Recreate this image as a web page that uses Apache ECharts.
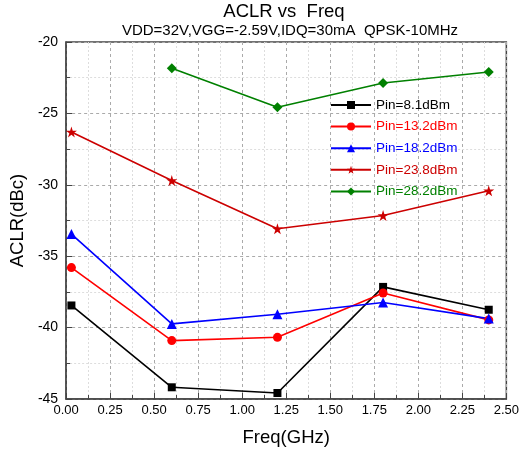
<!DOCTYPE html>
<html>
<head>
<meta charset="utf-8">
<script src="https://cdn.jsdelivr.net/npm/echarts@6/dist/echarts.min.js"></script>
<style>html,body{margin:0;padding:0;background:#fff;}#c{width:522px;height:452px;}</style>
</head>
<body>
<div id="c"></div>
<script>
var freq = [0.03, 0.6, 1.2, 1.8, 2.4];
var pin81 = [-38.45, -44.18, -44.58, -37.15, -38.75];
var pin132 = [-35.8, -40.91, -40.68, -37.58, -39.46];
var pin182 = [-33.45, -39.74, -39.06, -38.24, -39.37];
var pin238 = [-26.3, -29.7, -33.08, -32.15, -30.42];
var pin282 = [null, -21.84, -24.57, -22.87, -22.1];
var seriesNames = ['Pin=8.1dBm', 'Pin=13.2dBm', 'Pin=18.2dBm', 'Pin=23.8dBm', 'Pin=28.2dBm'];
var xTicks = [0, 2.5, 0.25];
var yTicks = [-45, -20, 5];

var star = 'path://M50,0 L61.2,34.5 L97.6,34.5 L68.2,55.9 L79.4,90.5 L50,69.1 L20.6,90.5 L31.8,55.9 L2.4,34.5 L38.8,34.5 Z';
var colors = ['#000000', '#ff0000', '#0000ff', '#cc0000', '#008000'];
var symbols = ['rect', 'circle', 'triangle', star, 'diamond'];
var sizes = [8, 9, 10, 11, 10];
var values = [pin81, pin132, pin182, pin238, pin282];

function pairs(v) {
  var out = [];
  for (var i = 0; i < freq.length; i++) { if (v[i] !== null) out.push([freq[i], v[i]]); }
  return out;
}

var series = seriesNames.map(function (n, i) {
  return {
    name: n, type: 'line', data: pairs(values[i]),
    symbol: symbols[i], symbolSize: sizes[i],
    lineStyle: { color: colors[i], width: 1.6 },
    itemStyle: { color: colors[i] },
    z: 3
  };
});

var font = 'Liberation Sans, Arial, sans-serif';
var chart = echarts.init(document.getElementById('c'), null, { renderer: 'canvas' });
chart.setOption({
  animation: false,
  backgroundColor: '#fff',
  title: [
    { text: 'ACLR vs  Freq', left: 279, top: -3, textAlign: 'center',
      textStyle: { fontFamily: font, fontSize: 18.5, fontWeight: 'normal', color: '#000' } },
    { text: 'VDD=32V,VGG=-2.59V,IDQ=30mA  QPSK-10MHz', left: 285, top: 18, textAlign: 'center',
      textStyle: { fontFamily: font, fontSize: 15, fontWeight: 'normal', color: '#000' } }
  ],
  legend: {
    orient: 'vertical', left: 325, top: 93, itemGap: 7.6, itemWidth: 40, itemHeight: 10,
    textStyle: { fontFamily: font, fontSize: 13.5 },
    data: seriesNames.map(function (n, i) { return { name: n, textStyle: { color: colors[i] } }; })
  },
  grid: { left: 64, right: 15, top: 42, bottom: 53, show: true, borderColor: '#444', borderWidth: 1.5, backgroundColor: 'transparent' },
  xAxis: {
    type: 'value', min: xTicks[0], max: xTicks[1], interval: xTicks[2],
    name: 'Freq(GHz)', nameLocation: 'middle', nameGap: 29,
    nameTextStyle: { fontFamily: font, fontSize: 18.5, color: '#000' },
    axisLine: { lineStyle: { color: '#444', width: 1.5 } },
    axisTick: { inside: true, length: 6, lineStyle: { color: '#444' } },
    minorTick: { show: true, splitNumber: 2, length: 4, lineStyle: { color: '#444' } },
    axisLabel: { fontFamily: font, fontSize: 13, color: '#000', margin: 5, formatter: function (v) { return v.toFixed(2); } },
    splitLine: { show: true, lineStyle: { color: '#aaa', type: [3, 3], width: 1 } },
    minorSplitLine: { show: true, lineStyle: { color: '#ddd', type: [2, 2], width: 1 } }
  },
  yAxis: {
    type: 'value', min: yTicks[0], max: yTicks[1], interval: yTicks[2],
    name: 'ACLR(dBc)', nameLocation: 'middle', nameGap: 36,
    nameTextStyle: { fontFamily: font, fontSize: 18.5, color: '#000' },
    axisLine: { show: true, lineStyle: { color: '#444', width: 1.5 } },
    axisTick: { show: true, inside: true, length: 6, lineStyle: { color: '#444' } },
    minorTick: { show: true, splitNumber: 2, length: 4, lineStyle: { color: '#444' } },
    axisLabel: { fontFamily: font, fontSize: 14, color: '#000', margin: 8 },
    splitLine: { show: true, lineStyle: { color: '#aaa', type: [3, 3], width: 1 } },
    minorSplitLine: { show: true, lineStyle: { color: '#ddd', type: [2, 2], width: 1 } }
  },
  series: series
});
</script>
</body>
</html>
